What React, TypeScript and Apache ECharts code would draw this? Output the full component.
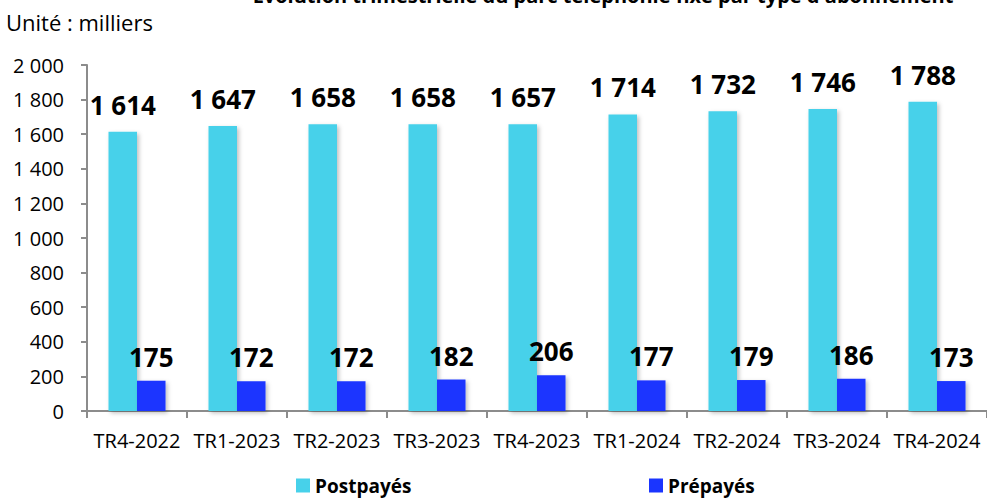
import React, { useEffect, useRef } from "react";
import * as echarts from "echarts";

const categories = ["TR4-2022", "TR1-2023", "TR2-2023", "TR3-2023", "TR4-2023", "TR1-2024", "TR2-2024", "TR3-2024", "TR4-2024"];
const postpayes = [1614, 1647, 1658, 1658, 1657, 1714, 1732, 1746, 1788];
const prepayes = [175, 172, 172, 182, 206, 177, 179, 186, 173];
const seriesNames = ["Postpayés", "Prépayés"];
const titleText = "Evolution trimestrielle du parc téléphonie fixe par type d'abonnement";
const unitText = "Unité : milliers";

const FONT = "'Open Sans', 'Noto Sans', sans-serif";
const fmt = (v: number) => String(v).replace(/\B(?=(\d{3})+(?!\d))/g, " ");

export default function App() {
  const ref = useRef<HTMLDivElement>(null);
  useEffect(() => {
    if (!ref.current) return;
    const chart = echarts.init(ref.current, undefined, { renderer: "svg" });
    const labelCommon = {
      show: true,
      position: "top" as const,
      fontFamily: FONT,
      fontWeight: "bold" as const,
      fontSize: 26,
      color: "#000",
      formatter: (p: any) => fmt(p.value),
    };
    const legendText = { fontFamily: FONT, fontWeight: "bold" as const, fontSize: 19, color: "#000" };
    chart.setOption({
      animation: false,
      textStyle: { fontFamily: FONT },
      grid: { left: 87, right: 0, top: 65, bottom: 87, containLabel: false },
      graphic: [
        {
          type: "text",
          x: 603,
          y: -5,
          style: {
            text: titleText,
            fontFamily: FONT,
            fontWeight: "bold",
            fontSize: 20,
            fill: "#000",
            textAlign: "center",
            textVerticalAlign: "middle",
          },
        },
        {
          type: "text",
          x: 6,
          y: 22,
          style: {
            text: unitText,
            fontFamily: FONT,
            fontSize: 22,
            fill: "#000",
            textVerticalAlign: "middle",
          },
        },
      ],
      legend: [
        {
          data: [seriesNames[0]],
          left: 296,
          top: 476,
          itemWidth: 14,
          itemHeight: 14,
          itemGap: 4,
          icon: "rect",
          textStyle: legendText,
          padding: 0,
        },
        {
          data: [seriesNames[1]],
          left: 649,
          top: 476,
          itemWidth: 14,
          itemHeight: 14,
          itemGap: 4,
          icon: "rect",
          textStyle: legendText,
          padding: 0,
        },
      ],
      xAxis: {
        type: "category",
        data: categories,
        axisLine: { lineStyle: { color: "#8c8c8c", width: 2 } },
        axisTick: { show: true, length: 7, lineStyle: { color: "#8c8c8c", width: 2 } },
        axisLabel: { color: "#000", fontSize: 20, fontFamily: FONT, margin: 19, interval: 0 },
      },
      yAxis: {
        type: "value",
        min: 0,
        max: 2000,
        interval: 200,
        axisLine: { show: true, lineStyle: { color: "#8c8c8c", width: 2 } },
        axisTick: { show: true, length: 6, lineStyle: { color: "#8c8c8c", width: 2 } },
        splitLine: { show: false },
        axisLabel: { color: "#000", fontSize: 20, fontFamily: FONT, margin: 23, formatter: (v: number) => fmt(v) },
      },
      series: [
        {
          name: seriesNames[0],
          type: "bar",
          data: postpayes,
          barWidth: 28.5,
          barGap: "0%",
          itemStyle: { color: "#47D1EA", shadowColor: "rgba(0,0,0,0.25)", shadowBlur: 4, shadowOffsetX: 2, shadowOffsetY: 2 },
          label: { ...labelCommon, distance: 14 },
        },
        {
          name: seriesNames[1],
          type: "bar",
          data: prepayes,
          barWidth: 28.5,
          itemStyle: { color: "#1A35FF", shadowColor: "rgba(0,0,0,0.25)", shadowBlur: 4, shadowOffsetX: 2, shadowOffsetY: 2 },
          label: { ...labelCommon, distance: 11 },
        },
      ],
    });
    return () => chart.dispose();
  }, []);
  return <div ref={ref} style={{ position: "fixed", left: 0, top: 0, width: 987, height: 498, background: "#fff" }} />;
}
